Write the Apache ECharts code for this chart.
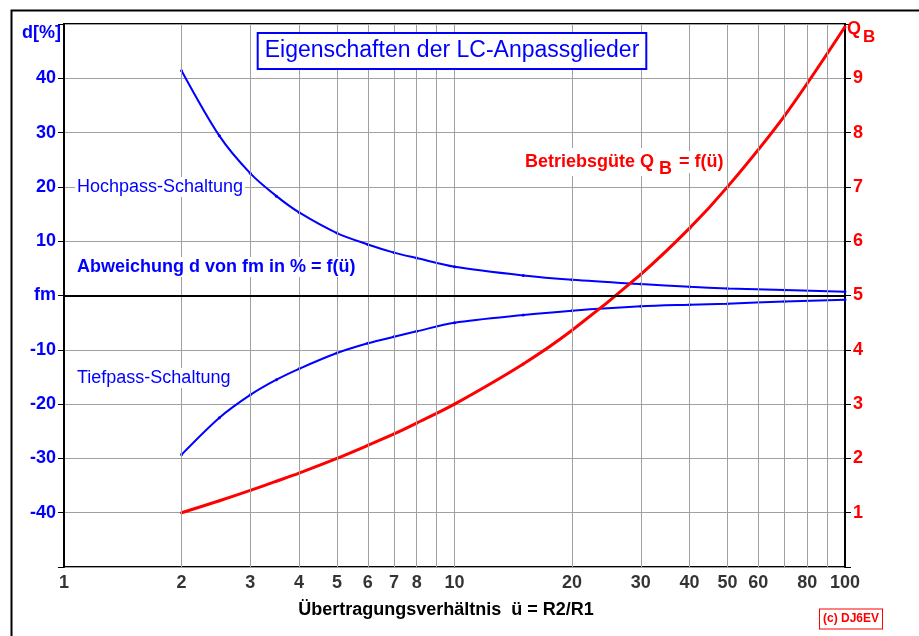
<!DOCTYPE html>
<html>
<head>
<meta charset="utf-8">
<script src="https://cdn.jsdelivr.net/npm/echarts@6/dist/echarts.min.js"></script>
<style>
  html, body { margin: 0; padding: 0; background: #fff; }
  #chart { width: 919px; height: 636px; }
</style>
</head>
<body>
<div id="chart"></div>
<script>
// Übertragungsverhältnis ü (x-Werte)
var uValues = [2, 2.5, 3, 3.5, 4, 5, 6, 7, 8, 10, 15, 20, 30, 40, 50, 70, 100];
// Abweichung d in %
var hochpass = [41.4, 29.4, 22.5, 18.3, 15.3, 11.5, 9.4, 7.9, 6.9, 5.3, 3.7, 2.9, 2.1, 1.6, 1.3, 1.0, 0.7];
var tiefpass = [-29.3, -22.5, -18.3, -15.5, -13.5, -10.6, -8.8, -7.6, -6.6, -5.0, -3.6, -2.8, -2.0, -1.7, -1.5, -1.1, -0.8];
// Betriebsgüte QB
var qb = [1.0, 1.22, 1.41, 1.58, 1.73, 2.0, 2.24, 2.45, 2.65, 3.0, 3.74, 4.36, 5.39, 6.24, 7.0, 8.31, 9.95];

// Achsenbeschriftung / Gitter
var xTickLabels = [1, 2, 3, 4, 5, 6, 7, 8, 10, 20, 30, 40, 50, 60, 80, 100];
var xGridValues = [2, 3, 4, 5, 6, 7, 8, 9, 20, 30, 40, 50, 60, 70, 80, 90];

var FONT = "'Liberation Sans', Arial, sans-serif";
var BLUE = '#0000ff';
var RED = '#ff0000';

function pairs(ys) {
  return uValues.map(function (u, i) { return [u, ys[i]]; });
}

function txt(x, y, s, font, fill, extra) {
  var style = { text: s, font: font, fill: fill,
    align: 'left', verticalAlign: 'middle', textAlign: 'left', textVerticalAlign: 'middle' };
  for (var k in (extra || {})) style[k] = extra[k];
  return { type: 'text', x: x, y: y, z: 100, silent: true, style: style };
}

var chart = echarts.init(document.getElementById('chart'), null, { renderer: 'canvas' });

var option = {
  backgroundColor: '#fff',
  animation: false,
  grid: {
    left: 64, right: 74, top: 24, bottom: 69,
    show: true, borderColor: '#000', borderWidth: 2, backgroundColor: 'transparent'
  },
  xAxis: {
    type: 'log', logBase: 10, min: 1, max: 100,
    axisLine: { show: true, lineStyle: { color: '#000', width: 2 } },
    axisTick: { show: false },
    axisLabel: { show: false },
    splitLine: { show: true, lineStyle: { color: '#a0a0a0', width: 1 } }
  },
  yAxis: [
    {
      type: 'value', min: -50, max: 50, interval: 10, position: 'left',
      axisLine: { show: true, lineStyle: { color: '#000', width: 2 } },
      axisTick: { show: true, length: 6, lineStyle: { color: '#000', width: 1 } },
      axisLabel: {
        margin: 8, color: BLUE, fontFamily: FONT, fontWeight: 'bold', fontSize: 18,
        formatter: function (v) {
          if (v === 0) return 'fm';
          if (v === 50 || v === -50) return '';
          return String(v);
        }
      },
      splitLine: { show: true, lineStyle: { color: '#a0a0a0', width: 1 } }
    },
    {
      type: 'value', min: 0, max: 10, interval: 1, position: 'right',
      axisLine: { show: true, lineStyle: { color: '#000', width: 2 } },
      axisTick: { show: true, length: 6, lineStyle: { color: '#000', width: 1 } },
      axisLabel: {
        margin: 8, color: RED, fontFamily: FONT, fontWeight: 'bold', fontSize: 18,
        formatter: function (v) { return (v === 0 || v === 10) ? '' : String(v); }
      },
      splitLine: { show: false }
    }
  ],
  series: [
    {
      name: 'Gitter', type: 'scatter', yAxisIndex: 0, silent: true, z: 1,
      symbolSize: 1, itemStyle: { color: 'transparent' },
      data: xTickLabels.map(function (v) { return [v, -50]; }),
      label: {
        show: true, position: 'bottom', distance: 7,
        color: '#000', fontFamily: FONT, fontWeight: 'bold', fontSize: 18,
        formatter: function (p) { return String(p.value[0]); }
      },
      markLine: {
        silent: true, symbol: 'none', animation: false,
        label: { show: false },
        lineStyle: { color: '#a0a0a0', width: 1, type: 'solid' },
        data: xGridValues.map(function (v) { return { xAxis: v }; })
      }
    },
    {
      name: 'Hochpass', type: 'line', yAxisIndex: 0, smooth: 0.3, z: 3,
      symbol: 'circle', symbolSize: 3, showSymbol: true,
      itemStyle: { color: BLUE }, lineStyle: { color: BLUE, width: 2 },
      data: pairs(hochpass),
      markLine: {
        silent: true, symbol: 'none', animation: false,
        label: { show: false },
        lineStyle: { color: '#000', width: 2, type: 'solid' },
        data: [{ yAxis: 0 }]
      }
    },
    {
      name: 'Tiefpass', type: 'line', yAxisIndex: 0, smooth: 0.3, z: 3,
      symbol: 'circle', symbolSize: 3, showSymbol: true,
      itemStyle: { color: BLUE }, lineStyle: { color: BLUE, width: 2 },
      data: pairs(tiefpass)
    },
    {
      name: 'QB', type: 'line', yAxisIndex: 1, smooth: 0.3, z: 4,
      symbol: 'circle', symbolSize: 3, showSymbol: true,
      itemStyle: { color: RED }, lineStyle: { color: RED, width: 3 },
      data: pairs(qb)
    }
  ],
  graphic: [
    // äußerer Rahmen
    { type: 'rect', left: 9, top: 8, z: 0, silent: true,
      shape: { x: 0, y: 0, width: 1000, height: 700 },
      style: { fill: 'none', stroke: '#000', lineWidth: 2 } },
    // Titel
    { type: 'text', x: 452, y: 51, z: 100, silent: true,
      style: { text: 'Eigenschaften der LC-Anpassglieder', font: 'normal 23px ' + FONT, fill: BLUE,
        align: 'center', verticalAlign: 'middle', textAlign: 'center', textVerticalAlign: 'middle',
        backgroundColor: '#fff', borderColor: BLUE, borderWidth: 2, padding: [6, 6, 5, 6] } },
    txt(22, 33, 'd[%]', 'bold 18px ' + FONT, BLUE),
    txt(847, 29, 'Q', 'bold 18px ' + FONT, RED),
    txt(863, 37, 'B', 'bold 17px ' + FONT, RED),
    txt(75, 187, 'Hochpass-Schaltung', 'normal 18px ' + FONT, BLUE, { backgroundColor: '#fff', padding: [1, 2] }),
    txt(75, 267, 'Abweichung d von fm in % = f(ü)', 'bold 18px ' + FONT, BLUE, { backgroundColor: '#fff', padding: [1, 2] }),
    txt(75, 378, 'Tiefpass-Schaltung', 'normal 18px ' + FONT, BLUE, { backgroundColor: '#fff', padding: [1, 2] }),
    txt(523, 162, 'Betriebsgüte Q', 'bold 18px ' + FONT, RED, { backgroundColor: '#fff', padding: [2, 2, 8, 2] }),
    txt(659, 169, 'B', 'bold 18px ' + FONT, RED),
    txt(677, 162, '= f(ü)', 'bold 18px ' + FONT, RED, { backgroundColor: '#fff', padding: [2, 2] }),
    { type: 'text', x: 446, y: 610, z: 100, silent: true,
      style: { text: 'Übertragungsverhältnis  ü = R2/R1', font: 'bold 18px ' + FONT, fill: '#000',
        align: 'center', verticalAlign: 'middle', textAlign: 'center', textVerticalAlign: 'middle' } },
    { type: 'text', x: 851, y: 619, z: 100, silent: true,
      style: { text: '(c) DJ6EV', font: 'bold 12px ' + FONT, fill: RED,
        align: 'center', verticalAlign: 'middle', textAlign: 'center', textVerticalAlign: 'middle',
        backgroundColor: '#fff', borderColor: RED, borderWidth: 1, padding: [4, 3, 3, 3] } }
  ]
};

chart.setOption(option);
window.addEventListener('resize', function () { chart.resize(); });
</script>
</body>
</html>
